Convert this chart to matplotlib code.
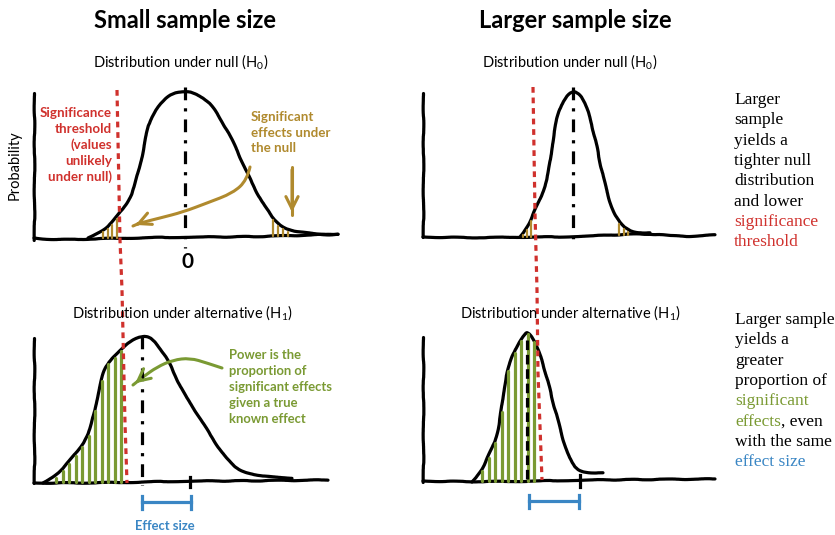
import numpy as np
import matplotlib
matplotlib.use("Agg")
import matplotlib.pyplot as plt
from matplotlib.path import Path
from matplotlib.patches import PathPatch

plt.rcParams['font.family'] = ['Lato', 'DejaVu Sans']
plt.rcParams['mathtext.fontset'] = 'custom'
plt.rcParams['mathtext.rm'] = 'Lato'

RED = '#d0312d'
GOLD = '#b08a2e'
GREEN = '#7a9a33'
BLUE = '#3a86c4'

# sketch coordinates (pixels, y down)
# --- small sample, null distribution
null_s_x = [88, 100, 110, 118, 127, 133, 138, 142, 147, 153, 163, 173, 183, 193, 207, 217,
            227, 237, 247, 257, 267, 277, 290, 307, 327, 338]
null_s_y = [238, 232, 225, 215, 203, 192, 173, 157, 130, 113, 100, 93, 92, 92, 100, 113,
            130, 150, 173, 193, 210, 223, 231, 233, 235, 234]
base_s0_x = [34, 50, 90, 133, 187, 233, 283, 338]
base_s0_y = [238, 240, 239, 238, 237, 237, 236, 234]

# --- small sample, alternative distribution
alt_s_x = [43, 57, 73, 87, 93, 100, 107, 120, 130, 142, 152, 163, 173, 183, 197, 215,
           233, 250, 267, 292]
alt_s_y = [483, 475, 457, 438, 420, 383, 363, 350, 341, 336, 338, 352, 370, 393, 413, 443,
           467, 474, 477, 478]
base_s1_x = [34, 100, 143, 190, 233, 328]
base_s1_y = [483, 483, 482, 481, 481, 480]

# --- larger sample, null distribution
null_l_x = [520, 527, 535, 543, 550, 553, 558, 565, 572, 577, 583, 590, 597, 603, 610, 617,
            627, 640, 650]
null_l_y = [237, 228, 210, 193, 167, 137, 113, 97, 91, 92, 98, 117, 147, 177, 203, 220,
            230, 233, 233]
base_l0_x = [423, 477, 520, 573, 650, 677, 715]
base_l0_y = [237, 238, 237, 237, 233, 237, 235]

# --- larger sample, alternative distribution
alt_l_x = [472, 480, 488, 497, 502, 505, 510, 517, 525, 528, 533, 538, 543, 550, 557, 563,
           573, 587, 603]
alt_l_y = [482, 473, 457, 437, 407, 380, 362, 345, 333, 332, 338, 350, 363, 390, 417, 440,
           468, 473, 473]
base_l1_x = [423, 473, 543, 580, 715]
base_l1_y = [481, 482, 481, 480, 479]

# significance thresholds (run through both panels)
thr_s_x = [117, 120, 122, 125, 127]
thr_s_y = [90, 240, 290, 423, 483]
thr_l_x = [533, 535, 537, 538, 542]
thr_l_y = [87, 213, 290, 373, 480]

# arrows
gold_arrow_x = [250, 247, 233, 207, 183, 160, 140, 133]
gold_arrow_y = [167, 180, 193, 203, 212, 218, 223, 226]
green_arrow_x = [222, 207, 190, 173, 157, 143, 133]
green_arrow_y = [368, 363, 358, 360, 367, 377, 385]

fig = plt.figure(figsize=(8.35, 5.35), dpi=100)
ax = fig.add_axes([0, 0, 1, 1])
ax.set_xlim(0, 835)
ax.set_ylim(535, 0)
ax.axis('off')


def smooth(x, y, color='black', lw=2.3, wobble=True):
    # quadratic bezier through the midpoints, so the pen stroke looks round
    pts = np.column_stack([x, y]).astype(float)
    verts = [pts[0]]
    codes = [Path.MOVETO]
    for i in range(1, len(pts) - 1):
        verts += [pts[i], (pts[i] + pts[i + 1]) / 2]
        codes += [Path.CURVE3, Path.CURVE3]
    verts.append(pts[-1])
    codes.append(Path.LINETO)
    p = PathPatch(Path(verts, codes), facecolor='none', edgecolor=color, lw=lw,
                  capstyle='round', joinstyle='round')
    if wobble:
        p.set_sketch_params(0.35, 70, 6)
    ax.add_patch(p)
    return p


def hatch(cx, cy, x0, x1, base, step, color, lw):
    xs = np.arange(x0, x1, step)
    tops = np.interp(xs, cx, cy) + 2
    ax.vlines(xs, tops, base, colors=color, lw=lw, capstyle='round')


def open_arrow(x, y, color):
    smooth(x, y, color=color, lw=2.2, wobble=False)
    ax.annotate('', xy=(x[-1], y[-1]), xytext=(x[-2], y[-2]),
                arrowprops=dict(arrowstyle='->', color=color, lw=2.2, mutation_scale=22))


# hatches under the curves
hatch(null_s_x, null_s_y, 103, 117, 238, 4.5, GOLD, 1.6)
hatch(null_s_x, null_s_y, 273, 292, 236, 5, GOLD, 1.6)
hatch(alt_s_x, alt_s_y, 56, 122, 482, 6.5, GREEN, 2.3)
hatch(null_l_x, null_l_y, 523, 534, 237, 4, GOLD, 1.6)
hatch(null_l_x, null_l_y, 619, 632, 235, 4.5, GOLD, 1.6)
hatch(alt_l_x, alt_l_y, 482, 537, 481, 6.5, GREEN, 2.3)

# axes, baselines, curves
for ax_x, y0, y1 in [(34, 93, 240), (34, 338, 483), (423, 93, 237), (423, 337, 482)]:
    smooth([ax_x, ax_x], [y0, y1])
for bx, by in [(base_s0_x, base_s0_y), (base_s1_x, base_s1_y),
               (base_l0_x, base_l0_y), (base_l1_x, base_l1_y)]:
    smooth(bx, by)
for cx, cy in [(null_s_x, null_s_y), (alt_s_x, alt_s_y), (null_l_x, null_l_y), (alt_l_x, alt_l_y)]:
    smooth(cx, cy)

# centre lines
ax.plot([185, 185], [87, 248], color='black', lw=2.3, linestyle=(0, (4, 2.5, 1, 2.5)))
ax.plot([142, 142], [336, 485], color='black', lw=2.3, linestyle=(0, (4, 2.5, 1, 2.5)))
ax.plot([573, 573], [87, 245], color='black', lw=2.3, linestyle=(0, (4, 2.5, 1, 2.5)))
ax.plot([527, 527], [340, 480], color='black', lw=2.3, linestyle=(0, (3, 1.5)))

# ticks on alternative baselines
ax.plot([190, 190], [477, 487], color='black', lw=2.3)
ax.plot([580, 580], [475, 487], color='black', lw=2.3)

# thresholds
ax.plot(thr_s_x, thr_s_y, color=RED, lw=2.3, linestyle=(0, (1.8, 1.5)))
ax.plot(thr_l_x, thr_l_y, color=RED, lw=2.3, linestyle=(0, (1.8, 1.5)))

# arrows
open_arrow(gold_arrow_x, gold_arrow_y, GOLD)
open_arrow([292, 292], [167, 215], GOLD)
open_arrow(green_arrow_x, green_arrow_y, GREEN)

# effect size brackets
for x0, x1, y in [(142, 191, 502), (529, 579, 501)]:
    ax.plot([x0, x1], [y, y], color=BLUE, lw=2.3)
    ax.plot([x0, x0], [y - 6, y + 7], color=BLUE, lw=2.3)
    ax.plot([x1, x1], [y - 6, y + 7], color=BLUE, lw=2.3)

# titles
ax.text(185, 20, 'Small sample size', ha='center', va='center', fontsize=17, fontweight='bold')
ax.text(575, 20, 'Larger sample size', ha='center', va='center', fontsize=17, fontweight='bold')
ax.text(181, 62, r'Distribution under null (H$_0$)', ha='center', va='center', fontsize=10.5)
ax.text(570, 62, r'Distribution under null (H$_0$)', ha='center', va='center', fontsize=10.5)
ax.text(182, 313, r'Distribution under alternative (H$_1$)', ha='center', va='center', fontsize=10.5)
ax.text(570, 313, r'Distribution under alternative (H$_1$)', ha='center', va='center', fontsize=10.5)
ax.text(15, 165, 'Probability', rotation=90, ha='center', va='center', fontsize=10.5)
ax.text(188, 262, '0', ha='center', va='center', fontsize=15, fontweight='bold')

# annotations
red_lines = ['Significance', 'threshold', '(values', 'unlikely', 'under null)']
for i, s in enumerate(red_lines):
    ax.text(112, 113 + i * 16, s, ha='right', va='center', color=RED, fontsize=9.6, fontweight='bold')
gold_lines = ['Significant', 'effects under', 'the null']
for i, s in enumerate(gold_lines):
    ax.text(251, 117 + i * 15.7, s, ha='left', va='center', color=GOLD, fontsize=9.6, fontweight='bold')
green_lines = ['Power is the', 'proportion of', 'significant effects', 'given a true', 'known effect']
for i, s in enumerate(green_lines):
    ax.text(229, 355 + i * 16, s, ha='left', va='center', color=GREEN, fontsize=9.4, fontweight='bold')
ax.text(165, 526, 'Effect size', ha='center', va='center', color=BLUE, fontsize=9.4, fontweight='bold')

serif = ['Liberation Serif', 'DejaVu Serif']
top_note = [('Larger', 'black'), ('sample', 'black'), ('yields a', 'black'), ('tighter null', 'black'),
            ('distribution', 'black'), ('and lower', 'black'), ('significance', RED), ('threshold', RED)]
for i, (s, c) in enumerate(top_note):
    ax.text(734, 100 + i * 20.3, s, ha='left', va='center', color=c, fontsize=12.5, family=serif)

bottom_note = ['Larger sample', 'yields a', 'greater', 'proportion of']
for i, s in enumerate(bottom_note):
    ax.text(735, 320 + i * 20.3, s, ha='left', va='center', color='black', fontsize=12.5, family=serif)
ax.text(735, 320 + 4 * 20.3, 'significant', ha='left', va='center', color=GREEN, fontsize=12.5, family=serif)
t = ax.text(735, 320 + 5 * 20.3, 'effects', ha='left', va='center', color=GREEN, fontsize=12.5, family=serif)
ax.annotate(', even', xy=(1, 0), xycoords=t, ha='left', va='bottom', color='black',
            fontsize=12.5, family=serif)
ax.text(735, 320 + 6 * 20.3, 'with the same', ha='left', va='center', color='black', fontsize=12.5, family=serif)
ax.text(735, 320 + 7 * 20.3, 'effect size', ha='left', va='center', color=BLUE, fontsize=12.5, family=serif)

fig.savefig('out.png', dpi=100)
